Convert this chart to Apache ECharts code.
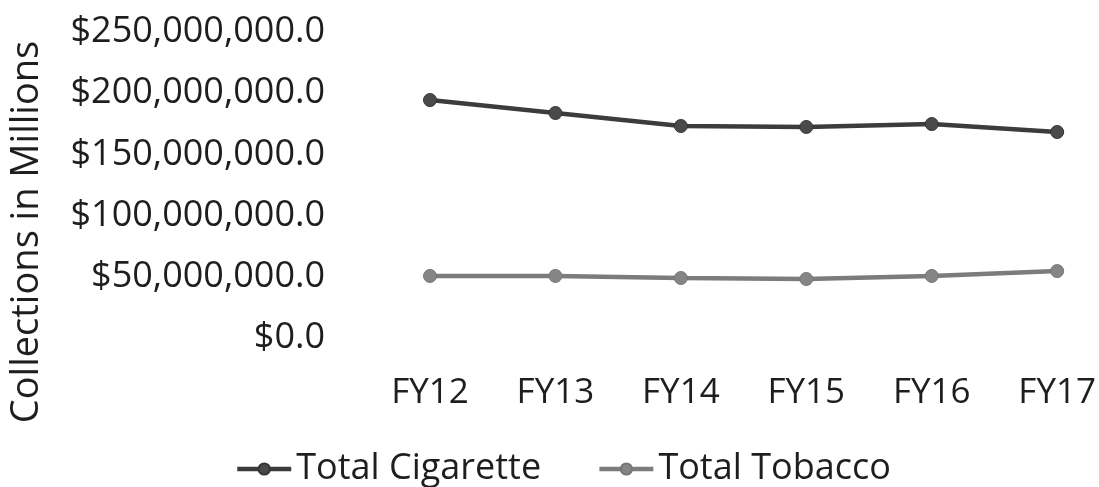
<!DOCTYPE html>
<html>
<head>
<meta charset="utf-8">
<title>Cigarette and Tobacco Collections</title>
<script src="https://cdn.jsdelivr.net/npm/echarts@6/dist/echarts.min.js"></script>
<style>
  html, body { margin: 0; padding: 0; background: #ffffff; }
  #chart { width: 1099px; height: 487px; }
</style>
</head>
<body>
<div id="chart"></div>
<script>
// Fiscal years on the category axis
const fiscalYears = ['FY12', 'FY13', 'FY14', 'FY15', 'FY16', 'FY17'];

// Annual collections, in dollars
const totalCigarette = [194400000, 183800000, 173200000, 172400000, 174800000, 168300000];
const totalTobacco = [50700000, 50700000, 49000000, 48200000, 50700000, 54700000];

// Value axis range
const yMin = 0;
const yMax = 250000000;
const yStep = 50000000;

const fontFamily = '"Open Sans", "Noto Sans", sans-serif';
const textColor = '#1e1e1e';

function dollarLabel(v) {
  return '$' + Math.round(v).toString().replace(/\B(?=(\d{3})+(?!\d))/g, ',') + '.0';
}

const chart = echarts.init(document.getElementById('chart'), null, { renderer: 'canvas' });

chart.setOption({
  backgroundColor: '#ffffff',
  animation: false,
  grid: { left: 430, right: 41, top: 32, bottom: 149, containLabel: false },
  legend: {
    left: 230,
    top: 446,
    itemWidth: 54,
    itemHeight: 14,
    itemGap: 56,
    lineStyle: { width: 4.5 },
    textStyle: { fontFamily: fontFamily, fontSize: 36, color: textColor, padding: [0, 0, 0, 0] },
    data: ['Total Cigarette', 'Total Tobacco']
  },
  xAxis: {
    type: 'category',
    data: fiscalYears,
    boundaryGap: false,
    axisLine: { show: false },
    axisTick: { show: false },
    splitLine: { show: false },
    axisLabel: { fontFamily: fontFamily, fontSize: 35, color: textColor, margin: 38 }
  },
  yAxis: {
    type: 'value',
    min: yMin,
    max: yMax,
    interval: yStep,
    name: 'Collections in Millions',
    nameLocation: 'middle',
    nameGap: 384,
    nameTextStyle: { fontFamily: fontFamily, fontSize: 38, color: textColor, padding: [0, 94, 0, 0] },
    axisLine: { show: false },
    axisTick: { show: false },
    splitLine: { show: false },
    axisLabel: {
      fontFamily: fontFamily, fontSize: 36, color: textColor, margin: 105,
      formatter: dollarLabel
    }
  },
  series: [
    {
      name: 'Total Cigarette',
      type: 'line',
      data: totalCigarette,
      symbol: 'circle',
      symbolSize: 13,
      lineStyle: { color: '#3c3c3c', width: 4.5 },
      itemStyle: { color: '#4a4a4a', borderColor: '#353535', borderWidth: 1 }
    },
    {
      name: 'Total Tobacco',
      type: 'line',
      data: totalTobacco,
      symbol: 'circle',
      symbolSize: 13,
      lineStyle: { color: '#7c7c7c', width: 4.5 },
      itemStyle: { color: '#858585', borderColor: '#767676', borderWidth: 1 }
    }
  ]
});
</script>
</body>
</html>
